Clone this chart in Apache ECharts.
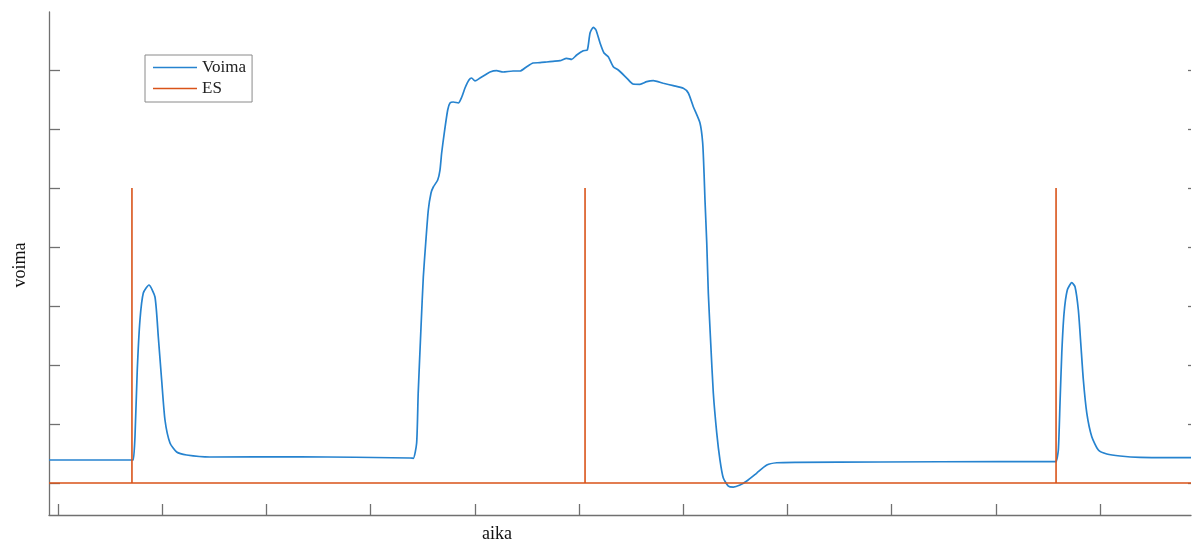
<!DOCTYPE html>
<html>
<head>
<meta charset="utf-8">
<script src="https://cdn.jsdelivr.net/npm/echarts@6/dist/echarts.min.js"></script>
<style>
  html, body { margin: 0; padding: 0; background: #fff; }
  #main { width: 1193px; height: 544px; }
</style>
</head>
<body>
<div id="main"></div>
<script>
// aika (x) ja voima (y) luettu kuvasta, yksikkona yksi tick-vali
var voimaT = [-0.086, 0.710, 0.723, 0.739, 0.761, 0.787, 0.819, 0.873, 0.931, 0.963, 0.995, 1.027, 1.075, 1.139, 1.235, 1.459, 2.322, 3.378,
  3.410, 3.442, 3.457, 3.484, 3.506, 3.529, 3.554, 3.580, 3.602, 3.644, 3.666, 3.682, 3.707, 3.740, 3.762, 3.794, 3.842, 3.875, 3.906, 3.944,
  3.970, 4.002, 4.050, 4.098, 4.146, 4.210, 4.271, 4.367, 4.434, 4.498, 4.559, 4.626, 4.690, 4.750, 4.818, 4.882, 4.930, 4.978, 5.041, 5.080,
  5.106, 5.137, 5.163, 5.202, 5.240, 5.281, 5.329, 5.377, 5.458, 5.518, 5.585, 5.650, 5.713, 5.809, 5.905, 6.001, 6.049, 6.097, 6.161, 6.187,
  6.200, 6.209, 6.226, 6.241, 6.264, 6.289, 6.322, 6.353, 6.385, 6.433, 6.481, 6.545, 6.610, 6.706, 6.802, 6.898, 7.090, 7.889, 9.040, 9.568,
  9.578, 9.600, 9.616, 9.633, 9.655, 9.686, 9.729, 9.760, 9.792, 9.815, 9.840, 9.873, 9.921, 9.984, 10.065, 10.192, 10.384, 10.873];
var voimaF = [0.390, 0.390, 0.390, 0.780, 1.915, 2.763, 3.220, 3.356, 3.153, 2.475, 1.746, 1.068, 0.678, 0.525, 0.475, 0.441, 0.445, 0.424,
  0.419, 0.678, 1.525, 2.644, 3.492, 4.068, 4.627, 4.915, 5.017, 5.136, 5.305, 5.593, 5.932, 6.322, 6.441, 6.458, 6.441, 6.542, 6.695, 6.831,
  6.864, 6.814, 6.864, 6.915, 6.966, 6.988, 6.966, 6.983, 6.983, 7.056, 7.119, 7.124, 7.136, 7.147, 7.158, 7.198, 7.181, 7.254, 7.327, 7.339,
  7.627, 7.724, 7.678, 7.458, 7.288, 7.225, 7.056, 7.000, 6.864, 6.763, 6.758, 6.802, 6.819, 6.775, 6.734, 6.690, 6.610, 6.378, 6.102, 5.763,
  5.254, 4.797, 4.068, 3.220, 2.373, 1.525, 0.847, 0.390, 0.085, -0.051, -0.068, -0.034, 0.034, 0.169, 0.305, 0.344, 0.351, 0.356, 0.364, 0.361,
  0.361, 0.559, 1.356, 2.203, 2.881, 3.271, 3.395, 3.327, 2.932, 2.373, 1.746, 1.186, 0.785, 0.559, 0.492, 0.458, 0.436, 0.432];

var esT = [-0.086, 0.710, 0.710, 0.710, 5.058, 5.058, 5.058, 9.578, 9.578, 9.578, 10.873];
var esV = [0, 0, 5, 0, 0, 5, 0, 0, 5, 0, 0];

var xTicks = [0, 1, 2, 3, 4, 5, 6, 7, 8, 9, 10];
var yTicks = [0, 1, 2, 3, 4, 5, 6, 7];

function pairs(xs, ys) {
    var out = [];
    for (var i = 0; i < xs.length; i++) {
        out.push([xs[i], ys[i]]);
    }
    return out;
}

var myChart = echarts.init(document.getElementById('main'));
var serif = "'Liberation Serif', 'DejaVu Serif', serif";
var axisGray = '#707070';

var option = {
    animation: false,
    backgroundColor: '#fff',
    grid: { left: 49, right: 2, top: 12, bottom: 29 },
    legend: {
        orient: 'vertical',
        left: 145,
        top: 55,
        padding: [2, 6, 3, 8],
        itemGap: 0,
        itemWidth: 44,
        itemHeight: 1.5,
        icon: 'rect',
        borderColor: '#8a8a8a',
        borderWidth: 1,
        textStyle: { fontFamily: serif, fontSize: 17, color: '#222', lineHeight: 21 },
        data: ['Voima', 'ES']
    },
    xAxis: {
        type: 'value',
        min: -0.086,
        max: 10.873,
        axisLine: { show: true, onZero: false, lineStyle: { color: axisGray, width: 1.3 } },
        axisTick: { show: true, inside: true, length: 11, customValues: xTicks, lineStyle: { color: axisGray, width: 1.3 } },
        axisLabel: { show: false },
        splitLine: { show: false }
    },
    yAxis: [
        {
            type: 'value',
            min: -0.542,
            max: 7.983,
            axisLine: { show: true, onZero: false, lineStyle: { color: axisGray, width: 1.3 } },
            axisTick: { show: true, inside: true, length: 11, customValues: yTicks, lineStyle: { color: axisGray, width: 1.3 } },
            axisLabel: { show: false },
            splitLine: { show: false }
        },
        {
            type: 'value',
            position: 'right',
            min: -0.542,
            max: 7.983,
            axisLine: { show: false, onZero: false },
            axisTick: { show: true, inside: true, length: 3, customValues: yTicks, lineStyle: { color: axisGray, width: 1.3 } },
            axisLabel: { show: false },
            splitLine: { show: false }
        }
    ],
    graphic: [
        {
            type: 'text',
            x: 20, y: 265,
            rotation: Math.PI / 2,
            style: { text: 'voima', fontFamily: serif, fontSize: 18, fill: '#111', align: 'center', verticalAlign: 'middle' }
        },
        {
            type: 'text',
            x: 497, y: 534,
            style: { text: 'aika', fontFamily: serif, fontSize: 18, fill: '#111', align: 'center', verticalAlign: 'middle' }
        }
    ],
    series: [
        {
            name: 'Voima',
            type: 'line',
            data: pairs(voimaT, voimaF),
            showSymbol: false,
            symbol: 'none',
            smooth: 0.2,
            itemStyle: { color: '#2683cf' },
            lineStyle: { color: '#2683cf', width: 1.7 },
            z: 2
        },
        {
            name: 'ES',
            type: 'line',
            data: pairs(esT, esV),
            showSymbol: false,
            symbol: 'none',
            itemStyle: { color: '#D95319' },
            lineStyle: { color: '#D95319', width: 1.6 },
            z: 3
        }
    ]
};
// 使用配置项显示图表
myChart.setOption(option);
</script>
</body>
</html>
